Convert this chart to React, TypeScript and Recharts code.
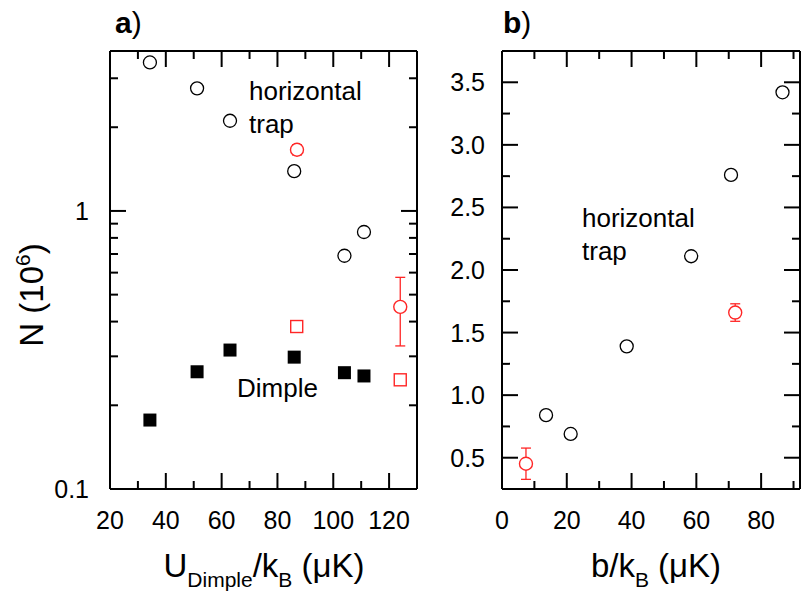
import { ErrorBar, ReferenceLine, Scatter, ScatterChart, XAxis, YAxis } from "recharts";

const FONT = '"Liberation Sans", Arial, sans-serif';
const RED = "#ff2626";
const MAJOR = 16;
const MINOR = 8;

// horizontal trap (open black circles) - same N in both panels
const uDimple = [34.3, 51.2, 63.0, 86.0, 104.0, 111.0];
const bHorizontal = [86.6, 70.7, 58.4, 38.5, 21.2, 13.6];
const nHorizontal = [3.42, 2.76, 2.11, 1.39, 0.69, 0.84];

// dimple (filled black squares), panel a only
const nDimple = [0.177, 0.264, 0.316, 0.298, 0.262, 0.255];

// red open circles with error bars
const uRed = [87.0, 124.0];
const bRed = [72.0, 7.4];
const nRed = [1.66, 0.452];
const nRedErr = [0.07, 0.125];

// red open squares, panel a only
const uRedSquare = [86.9, 124.0];
const nRedSquare = [0.384, 0.247];

// tick values: majors get a label, minors only a short mark
const aXMajor = [20, 40, 60, 80, 100, 120];
const aXMinor = [30, 50, 70, 90, 110];
const aYMajor = [0.1, 1];
const aYMinor = [0.2, 0.3, 0.4, 0.5, 0.6, 0.7, 0.8, 0.9, 2, 3];
const bXMajor = [0, 20, 40, 60, 80];
const bXMinor = [10, 30, 50, 70, 90];
const bYMajor = [0.5, 1, 1.5, 2, 2.5, 3, 3.5];
const bYMinor = [0.75, 1.25, 1.75, 2.25, 2.75, 3.25];

const horizontalA = uDimple.map((x, i) => ({ x, y: nHorizontal[i] }));
const dimpleA = uDimple.map((x, i) => ({ x, y: nDimple[i] }));
const redA = uRed.map((x, i) => ({ x, y: nRed[i], err: nRedErr[i] }));
const redSquareA = uRedSquare.map((x, i) => ({ x, y: nRedSquare[i] }));
const horizontalB = bHorizontal.map((x, i) => ({ x, y: nHorizontal[i] }));
const redB = bRed.map((x, i) => ({ x, y: nRed[i], err: nRedErr[i] }));

type TickProps = { x?: number | string; y?: number | string; payload?: { value: number } };

const labelStyle = { fontFamily: FONT, fontSize: 25, fill: "#000" };

function bottomLabel({ x, y, payload }: TickProps) {
  return (
    <text x={Number(x)} y={Number(y) + 40} textAnchor="middle" style={labelStyle}>
      {String(payload?.value)}
    </text>
  );
}

function leftLabel(gap: number, fmt: (v: number) => string) {
  return ({ x, y, payload }: TickProps) => (
    <text x={Number(x) - gap} y={Number(y)} dy="0.36em" textAnchor="end" style={labelStyle}>
      {fmt(Number(payload?.value))}
    </text>
  );
}

// inward tick marks: a reference line drawn only as two short stubs at the frame edges
type LineProps = { x1?: number; y1?: number; x2?: number; y2?: number };

function verticalStubs(len: number) {
  return ({ x1 = 0, y1 = 0, y2 = 0 }: LineProps) => {
    const top = Math.min(y1, y2);
    const bottom = Math.max(y1, y2);
    return (
      <g>
        <line x1={x1} x2={x1} y1={bottom} y2={bottom - len} stroke="#000" strokeWidth={2} />
        <line x1={x1} x2={x1} y1={top} y2={top + len} stroke="#000" strokeWidth={2} />
      </g>
    );
  };
}

function horizontalStubs(len: number) {
  return ({ x1 = 0, x2 = 0, y1 = 0 }: LineProps) => {
    const left = Math.min(x1, x2);
    const right = Math.max(x1, x2);
    return (
      <g>
        <line x1={left} x2={left + len} y1={y1} y2={y1} stroke="#000" strokeWidth={2} />
        <line x1={right} x2={right - len} y1={y1} y2={y1} stroke="#000" strokeWidth={2} />
      </g>
    );
  };
}

function tickMarks(xMajor: number[], xMinor: number[], yMajor: number[], yMinor: number[]) {
  const ids = { xAxisId: "bottom", yAxisId: "left" };
  return [
    ...xMajor.map((v) => <ReferenceLine key={`xM${v}`} {...ids} x={v} shape={verticalStubs(MAJOR)} />),
    ...xMinor.map((v) => <ReferenceLine key={`xm${v}`} {...ids} x={v} shape={verticalStubs(MINOR)} />),
    ...yMajor.map((v) => <ReferenceLine key={`yM${v}`} {...ids} y={v} shape={horizontalStubs(MAJOR)} />),
    ...yMinor.map((v) => <ReferenceLine key={`ym${v}`} {...ids} y={v} shape={horizontalStubs(MINOR)} />),
  ];
}

type ShapeProps = { cx?: number; cy?: number };

const blackCircle = ({ cx = 0, cy = 0 }: ShapeProps) => (
  <circle cx={cx} cy={cy} r={6.5} fill="#fff" stroke="#000" strokeWidth={1.3} />
);
const redCircle = ({ cx = 0, cy = 0 }: ShapeProps) => (
  <circle cx={cx} cy={cy} r={6.5} fill="#fff" stroke={RED} strokeWidth={1.4} />
);
const blackSquare = ({ cx = 0, cy = 0 }: ShapeProps) => (
  <rect x={cx - 6.5} y={cy - 6.5} width={13} height={13} fill="#000" />
);
const redSquare = ({ cx = 0, cy = 0 }: ShapeProps) => (
  <rect x={cx - 6} y={cy - 6} width={12} height={12} fill="none" stroke={RED} strokeWidth={1.4} />
);

const axisLine = { stroke: "#000", strokeWidth: 2 };

function PanelA() {
  return (
    <ScatterChart width={420} height={593} margin={{ top: 50, right: 2, bottom: 0, left: 0 }}>
      <XAxis
        xAxisId="bottom"
        type="number"
        dataKey="x"
        domain={[20, 130]}
        allowDataOverflow
        ticks={aXMajor}
        interval={0}
        height={104}
        tickSize={0}
        tickMargin={0}
        tickLine={false}
        axisLine={axisLine}
        tick={bottomLabel}
      />
      <XAxis xAxisId="top" orientation="top" type="number" domain={[20, 130]} height={1} tick={false} tickLine={false} axisLine={axisLine} />
      <YAxis
        yAxisId="left"
        type="number"
        dataKey="y"
        scale="log"
        domain={[0.1, 3.76]}
        allowDataOverflow
        ticks={aYMajor}
        interval={0}
        width={110}
        tickSize={0}
        tickMargin={0}
        tickLine={false}
        axisLine={axisLine}
        tick={leftLabel(21, (v) => String(v))}
      />
      <YAxis yAxisId="right" orientation="right" type="number" domain={[0.1, 3.76]} scale="log" width={1} tick={false} tickLine={false} axisLine={axisLine} />
      {tickMarks(aXMajor, aXMinor, aYMajor, aYMinor)}
      <Scatter xAxisId="bottom" yAxisId="left" data={horizontalA} shape={blackCircle} isAnimationActive={false} />
      <Scatter xAxisId="bottom" yAxisId="left" data={dimpleA} shape={blackSquare} isAnimationActive={false} />
      <Scatter xAxisId="bottom" yAxisId="left" data={redSquareA} shape={redSquare} isAnimationActive={false} />
      <Scatter xAxisId="bottom" yAxisId="left" data={redA} shape={redCircle} isAnimationActive={false}>
        <ErrorBar dataKey="err" direction="y" width={5} stroke={RED} strokeWidth={1.3} />
      </Scatter>
    </ScatterChart>
  );
}

function PanelB() {
  return (
    <ScatterChart width={381} height={593} margin={{ top: 50, right: 0, bottom: 0, left: 0 }}>
      <XAxis
        xAxisId="bottom"
        type="number"
        dataKey="x"
        domain={[0, 92]}
        allowDataOverflow
        ticks={bXMajor}
        interval={0}
        height={104}
        tickSize={0}
        tickMargin={0}
        tickLine={false}
        axisLine={axisLine}
        tick={bottomLabel}
      />
      <XAxis xAxisId="top" orientation="top" type="number" domain={[0, 92]} height={1} tick={false} tickLine={false} axisLine={axisLine} />
      <YAxis
        yAxisId="left"
        type="number"
        dataKey="y"
        domain={[0.25, 3.75]}
        allowDataOverflow
        ticks={bYMajor}
        interval={0}
        width={82}
        tickSize={0}
        tickMargin={0}
        tickLine={false}
        axisLine={axisLine}
        tick={leftLabel(17, (v) => v.toFixed(1))}
      />
      <YAxis yAxisId="right" orientation="right" type="number" domain={[0.25, 3.75]} width={1} tick={false} tickLine={false} axisLine={axisLine} />
      {tickMarks(bXMajor, bXMinor, bYMajor, bYMinor)}
      <Scatter xAxisId="bottom" yAxisId="left" data={horizontalB} shape={blackCircle} isAnimationActive={false} />
      <Scatter xAxisId="bottom" yAxisId="left" data={redB} shape={redCircle} isAnimationActive={false}>
        <ErrorBar dataKey="err" direction="y" width={5} stroke={RED} strokeWidth={1.3} />
      </Scatter>
    </ScatterChart>
  );
}

const textStyle = { fontFamily: FONT, fill: "#000" };

export default function App() {
  return (
    <div style={{ position: "absolute", left: 0, top: 0, width: 801, height: 593, background: "#fff", overflow: "hidden" }}>
      <div style={{ position: "absolute", left: 0, top: 0 }}>
        <PanelA />
      </div>
      <div style={{ position: "absolute", left: 420, top: 0 }}>
        <PanelB />
      </div>
      <svg width={801} height={593} style={{ position: "absolute", left: 0, top: 0, pointerEvents: "none" }}>
        {/* panel labels */}
        <text x={115} y={33} style={{ ...textStyle, fontSize: 30 }}>
          <tspan fontWeight="bold">a</tspan>)
        </text>
        <text x={503} y={33} style={{ ...textStyle, fontSize: 30 }}>
          <tspan fontWeight="bold">b</tspan>)
        </text>

        {/* annotations */}
        <text x={249} y={100} style={{ ...textStyle, fontSize: 26 }}>horizontal</text>
        <text x={249} y={133} style={{ ...textStyle, fontSize: 26 }}>trap</text>
        <text x={237} y={397} style={{ ...textStyle, fontSize: 26 }}>Dimple</text>
        <text x={582} y={227} style={{ ...textStyle, fontSize: 26 }}>horizontal</text>
        <text x={582} y={260} style={{ ...textStyle, fontSize: 26 }}>trap</text>

        {/* axis titles */}
        <text x={264} y={577} textAnchor="middle" style={{ ...textStyle, fontSize: 33 }}>
          U<tspan fontSize={21} dy={10}>Dimple</tspan>
          <tspan dy={-10}>/k</tspan>
          <tspan fontSize={21} dy={10}>B</tspan>
          <tspan dy={-10}> (μK)</tspan>
        </text>
        <text x={656} y={577} textAnchor="middle" style={{ ...textStyle, fontSize: 33 }}>
          b/k<tspan fontSize={21} dy={10}>B</tspan>
          <tspan dy={-10}> (μK)</tspan>
        </text>
        <text x={43} y={295} textAnchor="middle" transform="rotate(-90, 43, 295)" style={{ ...textStyle, fontSize: 33 }}>
          N (10<tspan fontSize={21} dy={-13}>6</tspan>
          <tspan dy={13}>)</tspan>
        </text>
      </svg>
    </div>
  );
}
